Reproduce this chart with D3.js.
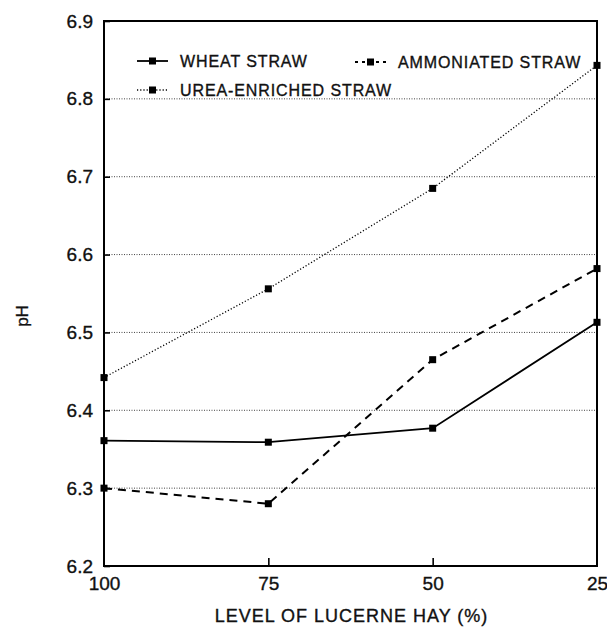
<!DOCTYPE html>
<html>
<head>
<meta charset="utf-8">
<script src="https://cdn.jsdelivr.net/npm/d3@7"></script>
<style>
	body { margin: 0; background: #fff; }
	svg { display: block; font-family: 'Liberation Sans', Arial, sans-serif; }
	text { stroke: #111; stroke-width: 0.35px; }
</style>
</head>
<body>
<div id="chart"></div>
<script>

var levels = [100, 75, 50, 25];
var wheat = [6.361, 6.359, 6.377, 6.513];
var ammoniated = [6.300, 6.280, 6.465, 6.582];
var urea = [6.442, 6.556, 6.685, 6.843];
var yTicks = [6.2, 6.3, 6.4, 6.5, 6.6, 6.7, 6.8, 6.9];

var width = 607;
var height = 634;
var plotLeft = 104, plotRight = 597, plotTop = 21, plotBottom = 566;

var svg = d3.select('#chart').append('svg')
	.attr('width', width)
	.attr('height', height);

var x = d3.scaleLinear().domain([100, 25]).range([plotLeft, plotRight]);
var y = d3.scaleLinear().domain([6.2, 6.9]).range([plotBottom, plotTop]);

// dotted grid, not on the frame lines
svg.append('g').selectAll('line')
	.data(yTicks.slice(1, -1))
	.enter().append('line')
	.attr('x1', plotLeft).attr('x2', plotRight)
	.attr('y1', function(d) { return y(d); })
	.attr('y2', function(d) { return y(d); })
	.attr('stroke', '#444')
	.attr('stroke-width', 1)
	.attr('stroke-dasharray', '1,1.5');

// frame
svg.append('rect')
	.attr('x', plotLeft).attr('y', plotTop)
	.attr('width', plotRight - plotLeft).attr('height', plotBottom - plotTop)
	.attr('fill', 'none')
	.attr('stroke', '#000')
	.attr('stroke-width', 2);

var yAxis = svg.append('g')
	.attr('transform', 'translate(' + plotLeft + ',0)')
	.call(d3.axisLeft(y).tickValues(yTicks).tickSize(-6).tickPadding(11).tickFormat(d3.format('.1f')));

var xAxis = svg.append('g')
	.attr('transform', 'translate(0,' + plotBottom + ')')
	.call(d3.axisBottom(x).tickValues(levels).tickSize(-8).tickPadding(11).tickFormat(d3.format('d')));

[yAxis, xAxis].forEach(function(ax) {
	ax.select('.domain').remove();
	ax.selectAll('line').attr('stroke', '#000').attr('stroke-width', 1.6);
	ax.selectAll('text')
		.attr('fill', '#111')
		.style('font-size', '19px')
		.style('font-family', "'Liberation Sans', Arial, sans-serif");
});
xAxis.selectAll('.tick line').filter(function(d) { return d === 100 || d === 25; }).remove();
xAxis.selectAll('.tick text').attr('dy', '0.71em');

var series = [
	{ name: 'WHEAT STRAW', values: wheat, dash: null, width: 1.8 },
	{ name: 'AMMONIATED STRAW', values: ammoniated, dash: '8,6', width: 2 },
	{ name: 'UREA-ENRICHED STRAW', values: urea, dash: '1.2,2', width: 1.3 }
];

var line = d3.line()
	.x(function(d) { return x(d.level); })
	.y(function(d) { return y(d.value); });

series.forEach(function(s) {
	var pts = levels.map(function(l, i) { return { level: l, value: s.values[i] }; });
	svg.append('path')
		.datum(pts)
		.attr('fill', 'none')
		.attr('stroke', '#000')
		.attr('stroke-width', s.width)
		.attr('stroke-dasharray', s.dash)
		.attr('d', line);
	svg.append('g').selectAll('rect')
		.data(pts)
		.enter().append('rect')
		.attr('x', function(d) { return x(d.level) - 3.5; })
		.attr('y', function(d) { return y(d.value) - 3.5; })
		.attr('width', 7).attr('height', 7)
		.attr('fill', '#000');
});

// legend
var legendPos = [[137, 61], [355, 62], [137, 90]];
series.forEach(function(s, i) {
	var g = svg.append('g').attr('transform', 'translate(' + legendPos[i][0] + ',' + legendPos[i][1] + ')');
	g.append('line')
		.attr('x1', 0).attr('x2', 31)
		.attr('stroke', '#000')
		.attr('stroke-width', s.width)
		.attr('stroke-dasharray', s.dash ? (i === 1 ? '3,4' : s.dash) : null);
	g.append('rect').attr('x', 12).attr('y', -3.5).attr('width', 7).attr('height', 7).attr('fill', '#000');
	g.append('text')
		.attr('x', 43).attr('dy', '0.36em')
		.attr('fill', '#111')
		.style('font-size', '16px')
		.style('letter-spacing', '0.9px')
		.text(s.name);
});

svg.append('text')
	.attr('x', (plotLeft + plotRight) / 2 + 1)
	.attr('y', 622)
	.attr('text-anchor', 'middle')
	.attr('fill', '#111')
	.style('font-size', '18px')
	.style('letter-spacing', '1px')
	.text('LEVEL OF LUCERNE HAY (%)');

svg.append('text')
	.attr('transform', 'translate(28,316) rotate(-90)')
	.attr('text-anchor', 'middle')
	.attr('fill', '#111')
	.style('font-size', '17px')
	.text('pH');

</script>
</body>
</html>
